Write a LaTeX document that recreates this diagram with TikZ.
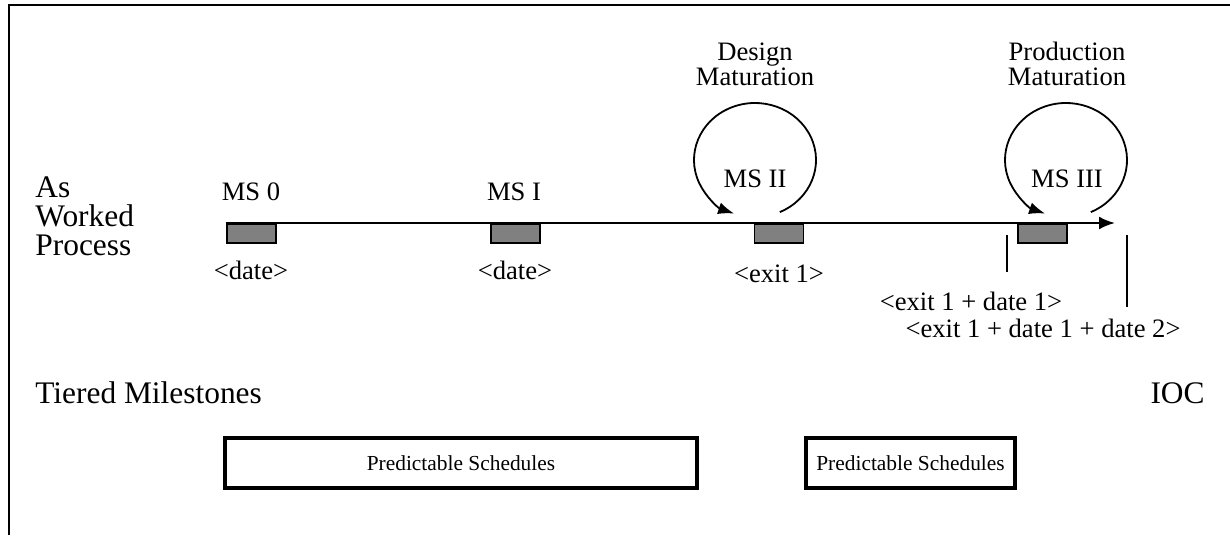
\documentclass[tikz,border=0pt]{standalone}
\usepackage{fontspec}
\setmainfont{Liberation Serif}
\usetikzlibrary{positioning}
\usetikzlibrary{arrows.meta}
\tikzset{x=0.5pt,y=-0.5pt,
    every node/.style={inner sep=0pt},
    mslabel/.style={
        font=\fontsize{13.3}{12.5}\selectfont,
        align=center},
    biglabel/.style={
        font=\fontsize{15.7}{14.5}\selectfont,
        align=left},
    milestone/.style={
        draw,
        line width=0.8pt,
        fill=gray,
        minimum width=24.5pt,
        minimum height=9.5pt,
        anchor=north},
    schedule/.style={
        draw,
        line width=2pt,
        minimum height=25pt,
        font=\fontsize{10.7}{12}\selectfont},
    frame/.style={line width=1.3pt},
    timeline/.style={
        line width=1.2pt,
        -{Latex[length=8pt,width=6.5pt]}},
    maturation/.style={
        line width=0.9pt,
        -{Latex[length=8pt,width=6pt]}},
    tick/.style={line width=1pt}}

\begin{document}
\begin{tikzpicture}
        \useasboundingbox (0,0) rectangle (1230,535);

        \coordinate (fbot) at (9,535);
        \coordinate (fcorner) at (9,5);
        \coordinate (fright) at (1230,5);
        \draw[frame] (fbot) -- (fcorner) -- (fright);

        \node[biglabel,anchor=south west] (asworked) at (35,256) {As\\Worked\\Process};

        \node[milestone] (ms0) at (251.5,223) {};
        \node[milestone] (ms1) at (515.5,223) {};
        \node[milestone] (ms2) at (779,223) {};
        \node[milestone] (ms3) at (1042.5,223) {};
        \coordinate (tlend) at (1115,223);
        \draw[timeline] (ms0.north west) -- (tlend);

        \node[mslabel,anchor=base] (ms0lab) at (251,200) {MS 0};
        \node[mslabel,anchor=base] (ms1lab) at (514,200) {MS I};
        \node[mslabel,anchor=base] (ms2lab) at (755,187) {MS II};
        \node[mslabel,anchor=base] (ms3lab) at (1067,187) {MS III};

        \coordinate (loop2) at (755,160);
        \coordinate (loop3) at (1066,160);
        \draw[maturation] ([shift={(66:61 and 57)}]loop2) arc[start angle=66, end angle=-250, x radius=61, y radius=57];
        \draw[maturation] ([shift={(66:61 and 57)}]loop3) arc[start angle=66, end angle=-250, x radius=61, y radius=57];
        \node[mslabel,anchor=south] (design) at (755,86) {Design\\Maturation};
        \node[mslabel,anchor=south] (production) at (1067,86) {Production\\Maturation};

        \node[mslabel,anchor=base] (d0) at (251,279) {<date>};
        \node[mslabel,anchor=base] (d1) at (515,279) {<date>};
        \node[mslabel,anchor=base] (d2) at (779,282) {<exit 1>};
        \node[mslabel,anchor=base] (d3) at (971,310) {<exit 1 + date 1>};
        \node[mslabel,anchor=base] (d4) at (1043,337) {<exit 1 + date 1 + date 2>};

        \coordinate (tk1a) at (1007,235);
        \coordinate (tk1b) at (1007,272);
        \coordinate (tk2a) at (1127,235);
        \coordinate (tk2b) at (1127,307);
        \draw[tick] (tk1a) -- (tk1b);
        \draw[tick] (tk2a) -- (tk2b);

        \node[biglabel,anchor=base west] (tiered) at (35,403) {Tiered Milestones};
        \node[biglabel,anchor=base east] (ioc) at (1205,403) {IOC};

        \node[schedule,minimum width=236pt] (sched1) at (461,463) {Predictable Schedules};
        \node[schedule,minimum width=104.5pt] (sched2) at (910.5,463) {Predictable Schedules};

    \end{tikzpicture}
\end{document}
